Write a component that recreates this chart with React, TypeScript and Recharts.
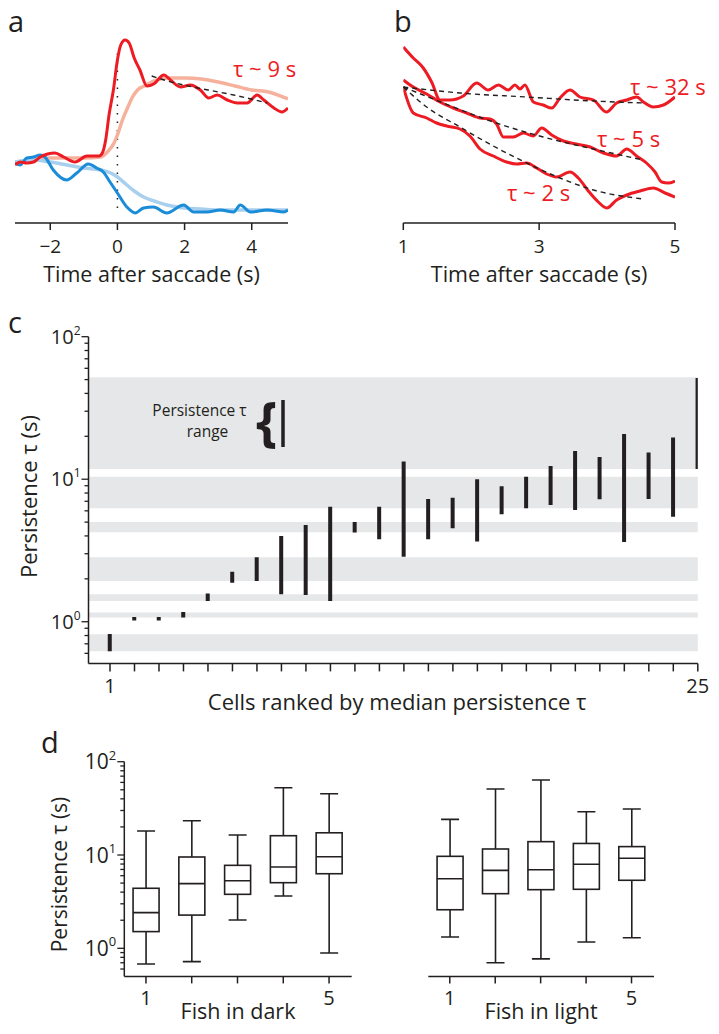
import React from 'react';
import {
  LineChart,
  ComposedChart,
  Line,
  XAxis,
  YAxis,
  Bar,
  Scatter,
  ReferenceArea,
  ReferenceLine,
  Label,
} from 'recharts';

const FONT = '"Open Sans", "DejaVu Sans", sans-serif';
const INK = '#231f20';
const RED = '#ed1c24';
const RED_LIGHT = '#f6b19d';
const BLUE = '#1a8cd8';
const BLUE_LIGHT = '#a9cfee';
const BAND = '#e6e7e8';

// ---------- Panel a ----------
const aRedTrace = [
  { t: -3.05, v: 58 }, { t: -2.9, v: 61 }, { t: -2.7, v: 60 }, { t: -2.5, v: 61 }, { t: -2.3, v: 66 },
  { t: -1.86, v: 70 }, { t: -1.6, v: 66 }, { t: -1.26, v: 61 }, { t: -0.91, v: 67 }, { t: -0.55, v: 67 },
  { t: -0.45, v: 70 }, { t: -0.35, v: 83 }, { t: -0.25, v: 108 }, { t: -0.12, v: 133 }, { t: 0, v: 163 },
  { t: 0.1, v: 178 }, { t: 0.23, v: 183 }, { t: 0.35, v: 180 }, { t: 0.5, v: 165 }, { t: 0.67, v: 153 },
  { t: 0.88, v: 137 }, { t: 1.08, v: 139 }, { t: 1.38, v: 148 }, { t: 1.58, v: 143 }, { t: 1.88, v: 136 },
  { t: 2.17, v: 138 }, { t: 2.47, v: 133 }, { t: 2.72, v: 125 }, { t: 2.97, v: 128 }, { t: 3.27, v: 123 },
  { t: 3.57, v: 120 }, { t: 3.86, v: 120 }, { t: 4.16, v: 128 }, { t: 4.36, v: 123 }, { t: 4.66, v: 115 },
  { t: 4.9, v: 111 }, { t: 5.08, v: 115 },
];
const aRedMean = [
  { t: -3.05, v: 61 }, { t: -2.5, v: 63 }, { t: -2, v: 65 }, { t: -1.5, v: 65 }, { t: -1, v: 65 },
  { t: -0.5, v: 66 }, { t: -0.3, v: 71 }, { t: -0.1, v: 80 }, { t: 0, v: 88 }, { t: 0.15, v: 103 },
  { t: 0.3, v: 115 }, { t: 0.45, v: 126 }, { t: 0.6, v: 133 }, { t: 0.8, v: 137 }, { t: 1.1, v: 142 },
  { t: 1.5, v: 145 }, { t: 2, v: 145 }, { t: 2.5, v: 144 }, { t: 3, v: 141 }, { t: 3.5, v: 137 },
  { t: 4, v: 133 }, { t: 4.5, v: 131 }, { t: 5.08, v: 124 },
];
const aBlueTrace = [
  { t: -3.05, v: 60 }, { t: -2.9, v: 58 }, { t: -2.7, v: 65 }, { t: -2.5, v: 66 }, { t: -2.3, v: 68 },
  { t: -2.16, v: 66 }, { t: -1.91, v: 53 }, { t: -1.51, v: 43 }, { t: -1.21, v: 50 }, { t: -0.87, v: 59 },
  { t: -0.62, v: 55 }, { t: -0.42, v: 51 }, { t: -0.22, v: 41 }, { t: -0.02, v: 31 }, { t: 0.28, v: 16 },
  { t: 0.53, v: 10 }, { t: 0.78, v: 15 }, { t: 1.07, v: 16 }, { t: 1.47, v: 10 }, { t: 1.97, v: 18 },
  { t: 2.27, v: 11 }, { t: 2.67, v: 11 }, { t: 3.06, v: 13 }, { t: 3.46, v: 11 }, { t: 3.66, v: 18 },
  { t: 3.96, v: 11 }, { t: 4.46, v: 13 }, { t: 4.96, v: 11 }, { t: 5.08, v: 13 },
];
const aBlueMean = [
  { t: -3.05, v: 61 }, { t: -2.5, v: 63 }, { t: -2, v: 61 }, { t: -1.5, v: 58 }, { t: -1, v: 55 },
  { t: -0.5, v: 53 }, { t: -0.2, v: 50 }, { t: 0, v: 46 }, { t: 0.28, v: 38 }, { t: 0.5, v: 32 },
  { t: 0.78, v: 26 }, { t: 1.1, v: 22 }, { t: 1.47, v: 18 }, { t: 2, v: 15 }, { t: 2.5, v: 14 },
  { t: 3, v: 13 }, { t: 4, v: 13 }, { t: 5.08, v: 13 },
];
const aFit = [
  { t: 1.02, v: 147 }, { t: 1.5, v: 142 }, { t: 1.97, v: 138 }, { t: 2.7, v: 133 }, { t: 3.46, v: 128 }, { t: 4.46, v: 120 },
];
const aTicks = [-2, 0, 2, 4];

// ---------- Panel b ----------
const bTrace32 = [
  { t: 1.0, v: 176 }, { t: 1.147, v: 165 }, { t: 1.294, v: 155 }, { t: 1.417, v: 141 }, { t: 1.54, v: 123 },
  { t: 1.687, v: 123 }, { t: 1.883, v: 127 }, { t: 2.08, v: 140 }, { t: 2.25, v: 133 }, { t: 2.4, v: 138 },
  { t: 2.546, v: 133 }, { t: 2.644, v: 138 }, { t: 2.718, v: 134 }, { t: 2.79, v: 138 }, { t: 2.914, v: 121 },
  { t: 3.06, v: 118 }, { t: 3.184, v: 115 }, { t: 3.307, v: 125 }, { t: 3.454, v: 133 }, { t: 3.6, v: 126 },
  { t: 3.8, v: 123 }, { t: 3.99, v: 111 }, { t: 4.14, v: 120 }, { t: 4.29, v: 123 }, { t: 4.435, v: 126 },
  { t: 4.534, v: 121 }, { t: 4.68, v: 116 }, { t: 4.83, v: 118 }, { t: 5.0, v: 126 },
];
const bTrace5 = [
  { t: 1.0, v: 143 }, { t: 1.147, v: 136 }, { t: 1.344, v: 129 }, { t: 1.54, v: 121 }, { t: 1.736, v: 115 },
  { t: 1.933, v: 110 }, { t: 2.129, v: 105 }, { t: 2.276, v: 104 }, { t: 2.374, v: 99 }, { t: 2.472, v: 86 },
  { t: 2.62, v: 86 }, { t: 2.767, v: 90 }, { t: 2.914, v: 87 }, { t: 3.037, v: 95 }, { t: 3.184, v: 88 },
  { t: 3.356, v: 82 }, { t: 3.55, v: 79 }, { t: 3.75, v: 76 }, { t: 3.945, v: 70 }, { t: 4.14, v: 67 },
  { t: 4.29, v: 74 }, { t: 4.435, v: 67 }, { t: 4.58, v: 60 }, { t: 4.706, v: 51 }, { t: 4.804, v: 41 },
  { t: 4.9, v: 40 }, { t: 5.0, v: 42 },
];
const bTrace2 = [
  { t: 1.0, v: 136 }, { t: 1.147, v: 110 }, { t: 1.344, v: 105 }, { t: 1.49, v: 100 }, { t: 1.638, v: 97 },
  { t: 1.834, v: 94 }, { t: 1.98, v: 87 }, { t: 2.129, v: 74 }, { t: 2.325, v: 67 }, { t: 2.52, v: 61 },
  { t: 2.669, v: 59 }, { t: 2.816, v: 60 }, { t: 2.963, v: 55 }, { t: 3.11, v: 49 }, { t: 3.258, v: 46 },
  { t: 3.454, v: 51 }, { t: 3.577, v: 45 }, { t: 3.724, v: 32 }, { t: 3.871, v: 21 }, { t: 3.994, v: 15 },
  { t: 4.14, v: 23 }, { t: 4.29, v: 28 }, { t: 4.485, v: 32 }, { t: 4.68, v: 35 }, { t: 4.853, v: 30 },
  { t: 5.0, v: 26 },
];
const bFit32 = [
  { t: 1.0, v: 136 }, { t: 1.834, v: 130 }, { t: 2.816, v: 126 }, { t: 3.8, v: 122 }, { t: 4.534, v: 120 },
];
const bFit5 = [
  { t: 1.0, v: 136 }, { t: 1.589, v: 120 }, { t: 2.325, v: 101 }, { t: 3.06, v: 86 }, { t: 3.8, v: 74 }, { t: 4.534, v: 63 },
];
const bFit2 = [
  { t: 1.0, v: 136 }, { t: 1.344, v: 116 }, { t: 1.834, v: 96 }, { t: 2.325, v: 77 }, { t: 2.816, v: 60 },
  { t: 3.307, v: 45 }, { t: 3.8, v: 33 }, { t: 4.534, v: 24 },
];
const bTicks = [1, 3, 5];

// ---------- Panel c ----------
const cCells = [1, 2, 3, 4, 5, 6, 7, 8, 9, 10, 11, 12, 13, 14, 15, 16, 17, 18, 19, 20, 21, 22, 23, 24, 25];
const cLow = [0.62, 1.02, 1.02, 1.07, 1.4, 1.88, 1.93, 1.56, 1.54, 1.4, 4.22, 3.79, 2.86, 3.79, 4.52, 3.65, 5.67, 6.25, 6.58, 6.08, 7.22, 3.62, 7.26, 5.45, 11.8];
const cHigh = [0.82, 1.08, 1.08, 1.17, 1.58, 2.24, 2.83, 3.99, 4.77, 6.41, 5.01, 6.41, 13.3, 7.26, 7.41, 10.0, 8.93, 10.4, 12.4, 15.8, 14.3, 20.8, 15.4, 19.6, 51.4];
const cBandLow = [11.8, 6.25, 4.24, 1.93, 1.4, 1.07, 0.62];
const cBandHigh = [51.9, 10.4, 5.01, 2.83, 1.56, 1.16, 0.816];
const cXTickLabels = [1, 25];
const logTicks = [0.6, 0.7, 0.8, 0.9, 1, 2, 3, 4, 5, 6, 7, 8, 9, 10, 20, 30, 40, 50, 60, 70, 80, 90, 100];
const cData = cCells.map((cell, i) => ({ cell, range: [cLow[i], cHigh[i]] }));

// ---------- Panel d ----------
const fish = [1, 2, 3, 4, 5];
const fishTickLabels = [1, 5];
const darkLow = [0.68, 0.72, 2.01, 3.64, 0.89];
const darkQ1 = [1.51, 2.27, 3.79, 5.05, 6.3];
const darkMed = [2.41, 4.93, 5.3, 7.43, 9.59];
const darkQ3 = [4.4, 9.52, 7.75, 16.1, 17.3];
const darkHigh = [18.1, 23.3, 16.4, 52.6, 45.4];
const lightLow = [1.32, 0.7, 0.77, 1.17, 1.3];
const lightQ1 = [2.59, 3.85, 4.25, 4.29, 5.36];
const lightMed = [5.57, 6.85, 6.96, 7.95, 9.22];
const lightQ3 = [9.68, 11.6, 13.9, 13.3, 12.3];
const lightHigh = [24.1, 51, 63.7, 29.1, 31.1];

const buildBoxes = (lo: number[], q1: number[], med: number[], q3: number[], hi: number[]) =>
  fish.map((f, i) => ({
    fish: f,
    lowW: [lo[i], q1[i]],
    highW: [q3[i], hi[i]],
    box: [q1[i], q3[i]],
    med: med[i],
  }));
const dDark = buildBoxes(darkLow, darkQ1, darkMed, darkQ3, darkHigh);
const dLight = buildBoxes(lightLow, lightQ1, lightMed, lightQ3, lightHigh);

// ---------- shared pieces ----------
const TAU = '\u03c4';
const tickStyle = { fill: INK, fontSize: 19, fontFamily: FONT };
const axisStroke = { stroke: INK, strokeWidth: 1.5 };

const makeLogTick = (fs: number, sfs: number) => (props: any) => {
  const { x, y, payload } = props;
  const v = payload.value;
  const lg = Math.log10(v);
  const exp = Math.round(lg);
  const isMajor = Math.abs(lg - exp) < 1e-6;
  return (
    <g>
      <line x1={x} x2={x - (isMajor ? 7 : 4)} y1={y} y2={y} stroke={INK} strokeWidth={1.3} />
      {isMajor && (
        <text x={x - 8} y={y + fs * 0.36} textAnchor="end" fontSize={fs} fontFamily={FONT} fill={INK}>
          10
          <tspan dy={-fs * 0.45} fontSize={sfs}>
            {exp}
          </tspan>
        </text>
      )}
    </g>
  );
};

const vLabel = (text: string, x: number, y: number, fs: number) => () => (
  <text
    transform={`translate(${x},${y}) rotate(-90)`}
    textAnchor="middle"
    fontSize={fs}
    fontFamily={FONT}
    fill={INK}
  >
    {text}
  </text>
);

const LowWhisker = (p: any) => {
  const cx = p.x + p.width / 2;
  const top = Math.min(p.y, p.y + p.height);
  const bot = Math.max(p.y, p.y + p.height);
  return (
    <g>
      <line x1={cx} x2={cx} y1={top} y2={bot} stroke={INK} strokeWidth={1.6} />
      <line x1={p.x} x2={p.x + p.width} y1={bot} y2={bot} stroke={INK} strokeWidth={1.6} />
    </g>
  );
};
const HighWhisker = (p: any) => {
  const cx = p.x + p.width / 2;
  const top = Math.min(p.y, p.y + p.height);
  const bot = Math.max(p.y, p.y + p.height);
  return (
    <g>
      <line x1={cx} x2={cx} y1={top} y2={bot} stroke={INK} strokeWidth={1.6} />
      <line x1={p.x} x2={p.x + p.width} y1={top} y2={top} stroke={INK} strokeWidth={1.6} />
    </g>
  );
};
const BoxShape = (p: any) => {
  const top = Math.min(p.y, p.y + p.height);
  const h = Math.abs(p.height);
  return <rect x={p.x} y={top} width={p.width} height={h} fill="#ffffff" stroke={INK} strokeWidth={1.6} />;
};
const MedianShape = (p: any) => (
  <line x1={p.cx - 13} x2={p.cx + 13} y1={p.cy} y2={p.cy} stroke={INK} strokeWidth={1.6} />
);

const fishFormatter = (v: number) => (fishTickLabels.includes(v) ? String(v) : '');
const cellFormatter = (v: number) => (cXTickLabels.includes(v) ? String(v) : '');
const minusFormatter = (v: number) => (v < 0 ? `\u2212${-v}` : String(v));

const BoxPanel = ({ data, label, showY, width, marginLeft, marginRight }: any) => (
  <ComposedChart
    width={width}
    height={314}
    data={data}
    margin={{ top: 41.7, right: marginRight, left: marginLeft, bottom: 7.6 }}
  >
    <XAxis
      xAxisId="main"
      type="number"
      dataKey="fish"
      domain={[0.527, 5.495]}
      allowDataOverflow
      ticks={fish}
      interval={0}
      tickFormatter={fishFormatter}
      height={50}
      tickSize={7}
      tickMargin={7}
      axisLine={axisStroke}
      tickLine={axisStroke}
      tick={{ ...tickStyle, fontSize: 20 }}
    >
      <Label value={label} position="insideBottom" offset={7.5} fontSize={21.5} fontFamily={FONT} fill={INK} />
    </XAxis>
    <XAxis xAxisId="w1" type="number" dataKey="fish" domain={[0.527, 5.495]} allowDataOverflow hide />
    <XAxis xAxisId="w2" type="number" dataKey="fish" domain={[0.527, 5.495]} allowDataOverflow hide />
    <YAxis
      type="number"
      scale="log"
      domain={[0.5, 100]}
      allowDataOverflow
      hide={!showY}
      width={showY ? 124.3 : 0}
      ticks={logTicks}
      interval={0}
      tick={makeLogTick(21, 13)}
      tickLine={false}
      tickSize={0}
      tickMargin={0}
      axisLine={axisStroke}
    >
      {showY && <Label content={vLabel(`Persistence ${TAU} (s)`, 67, 154.5, 21)} />}
    </YAxis>
    <Bar xAxisId="w1" dataKey="lowW" barSize={18} shape={LowWhisker} isAnimationActive={false} />
    <Bar xAxisId="w2" dataKey="highW" barSize={18} shape={HighWhisker} isAnimationActive={false} />
    <Bar xAxisId="main" dataKey="box" barSize={26} shape={BoxShape} isAnimationActive={false} />
    <Scatter xAxisId="main" dataKey="med" shape={MedianShape} isAnimationActive={false} />
  </ComposedChart>
);

export default function App() {
  return (
    <div style={{ position: 'absolute', left: 0, top: 0, width: 719, height: 1034, background: '#fff', fontFamily: FONT }}>
      {/* Panel a */}
      <div style={{ position: 'absolute', left: 0, top: 0 }}>
        <LineChart width={300} height={290} margin={{ top: 28, right: 12, left: 15, bottom: 7 }}>
          <XAxis
            type="number"
            dataKey="t"
            domain={[-3.05, 5.08]}
            allowDataOverflow
            ticks={aTicks}
            tickFormatter={minusFormatter}
            height={60}
            tickSize={7}
            tickMargin={9.5}
            axisLine={axisStroke}
            tickLine={axisStroke}
            tick={tickStyle}
          >
            <Label value="Time after saccade (s)" position="insideBottom" offset={1} fontSize={21.5} fontFamily={FONT} fill={INK} />
          </XAxis>
          <YAxis type="number" domain={[0, 195]} allowDataOverflow hide />
          <ReferenceLine segment={[{ x: 0, y: 15 }, { x: 0, y: 174 }]} stroke={INK} strokeWidth={1.5} strokeDasharray="1.5 7" />
          <Line data={aRedMean} dataKey="v" type="monotone" stroke={RED_LIGHT} strokeWidth={3.5} dot={false} isAnimationActive={false} />
          <Line data={aBlueMean} dataKey="v" type="monotone" stroke={BLUE_LIGHT} strokeWidth={3.5} dot={false} isAnimationActive={false} />
          <Line data={aBlueTrace} dataKey="v" type="monotone" stroke={BLUE} strokeWidth={3} dot={false} isAnimationActive={false} />
          <Line data={aRedTrace} dataKey="v" type="monotone" stroke={RED} strokeWidth={3} dot={false} isAnimationActive={false} />
          <Line data={aFit} dataKey="v" type="monotone" stroke={INK} strokeWidth={1.4} strokeDasharray="5 4" dot={false} isAnimationActive={false} />
        </LineChart>
      </div>

      {/* Panel b */}
      <div style={{ position: 'absolute', left: 380, top: 0 }}>
        <LineChart width={310} height={290} margin={{ top: 28, right: 15, left: 23.3, bottom: 7 }}>
          <XAxis
            type="number"
            dataKey="t"
            domain={[1, 5]}
            allowDataOverflow
            ticks={bTicks}
            height={60}
            tickSize={7}
            tickMargin={9.5}
            axisLine={axisStroke}
            tickLine={axisStroke}
            tick={tickStyle}
          >
            <Label value="Time after saccade (s)" position="insideBottom" offset={1} fontSize={21.5} fontFamily={FONT} fill={INK} />
          </XAxis>
          <YAxis type="number" domain={[0, 195]} allowDataOverflow hide />
          <Line data={bTrace32} dataKey="v" type="monotone" stroke={RED} strokeWidth={3} dot={false} isAnimationActive={false} />
          <Line data={bTrace5} dataKey="v" type="monotone" stroke={RED} strokeWidth={3} dot={false} isAnimationActive={false} />
          <Line data={bTrace2} dataKey="v" type="monotone" stroke={RED} strokeWidth={3} dot={false} isAnimationActive={false} />
          <Line data={bFit32} dataKey="v" type="monotone" stroke={INK} strokeWidth={1.4} strokeDasharray="5 4" dot={false} isAnimationActive={false} />
          <Line data={bFit5} dataKey="v" type="monotone" stroke={INK} strokeWidth={1.4} strokeDasharray="5 4" dot={false} isAnimationActive={false} />
          <Line data={bFit2} dataKey="v" type="monotone" stroke={INK} strokeWidth={1.4} strokeDasharray="5 4" dot={false} isAnimationActive={false} />
        </LineChart>
      </div>

      {/* Panel c */}
      <div style={{ position: 'absolute', left: 0, top: 300 }}>
        <ComposedChart width={719} height={420} data={cData} margin={{ top: 36.7, right: 21.2, left: 0, bottom: 6.6 }}>
          <XAxis
            type="number"
            dataKey="cell"
            domain={[0.122, 25]}
            allowDataOverflow
            ticks={cCells}
            interval={0}
            tickFormatter={cellFormatter}
            height={50}
            tickSize={8}
            tickMargin={7}
            axisLine={axisStroke}
            tickLine={axisStroke}
            tick={{ ...tickStyle, fontSize: 20 }}
          >
            <Label
              value={`Cells ranked by median persistence ${TAU}`}
              position="insideBottom"
              offset={3.4}
              dx={4}
              fontSize={22}
              fontFamily={FONT}
              fill={INK}
            />
          </XAxis>
          <YAxis
            type="number"
            scale="log"
            domain={[0.51, 100]}
            allowDataOverflow
            width={88.5}
            ticks={logTicks}
            interval={0}
            tick={makeLogTick(20, 12)}
            tickLine={false}
            tickSize={0}
            tickMargin={0}
            axisLine={axisStroke}
          >
            <Label content={vLabel(`Persistence ${TAU} (s)`, 37, 196.5, 22)} />
          </YAxis>
          {cBandLow.map((lo, i) => (
            <ReferenceArea key={i} y1={lo} y2={cBandHigh[i]} fill={BAND} fillOpacity={1} stroke="none" />
          ))}
          <Bar dataKey="range" barSize={4} fill={INK} isAnimationActive={false} />
        </ComposedChart>
      </div>

      {/* Panel d */}
      <div style={{ position: 'absolute', left: 0, top: 720 }}>
        <BoxPanel data={dDark} label="Fish in dark" showY width={370} marginLeft={0} marginRight={18.3} />
      </div>
      <div style={{ position: 'absolute', left: 380, top: 720 }}>
        <BoxPanel data={dLight} label="Fish in light" showY={false} width={300} marginLeft={48.3} marginRight={26} />
      </div>

      {/* Annotations */}
      <svg
        width={719}
        height={1034}
        style={{ position: 'absolute', left: 0, top: 0, pointerEvents: 'none' }}
        fontFamily={FONT}
      >
        <text x={8} y={32} fontSize={29} fill={INK}>a</text>
        <text x={394} y={32} fontSize={29} fill={INK}>b</text>
        <text x={8} y={333} fontSize={29} fill={INK}>c</text>
        <text x={41} y={753} fontSize={29} fill={INK}>d</text>

        <text x={233} y={77} fontSize={22} fill={RED}>{`${TAU} ~ 9 s`}</text>
        <text x={630} y={95} fontSize={22} fill={RED}>{`${TAU} ~ 32 s`}</text>
        <text x={597} y={147} fontSize={22} fill={RED}>{`${TAU} ~ 5 s`}</text>
        <text x={507} y={201} fontSize={22} fill={RED}>{`${TAU} ~ 2 s`}</text>

        <text x={199.5} y={416} fontSize={15.5} fill={INK} textAnchor="middle">{`Persistence ${TAU}`}</text>
        <text x={207.5} y={437} fontSize={15.5} fill={INK} textAnchor="middle">range</text>
        <text x={256} y={441} fontSize={54} fontWeight="bold" fill={INK}>{'{'}</text>
        <line x1={283} x2={283} y1={400} y2={447} stroke={INK} strokeWidth={3.5} />
      </svg>
    </div>
  );
}
